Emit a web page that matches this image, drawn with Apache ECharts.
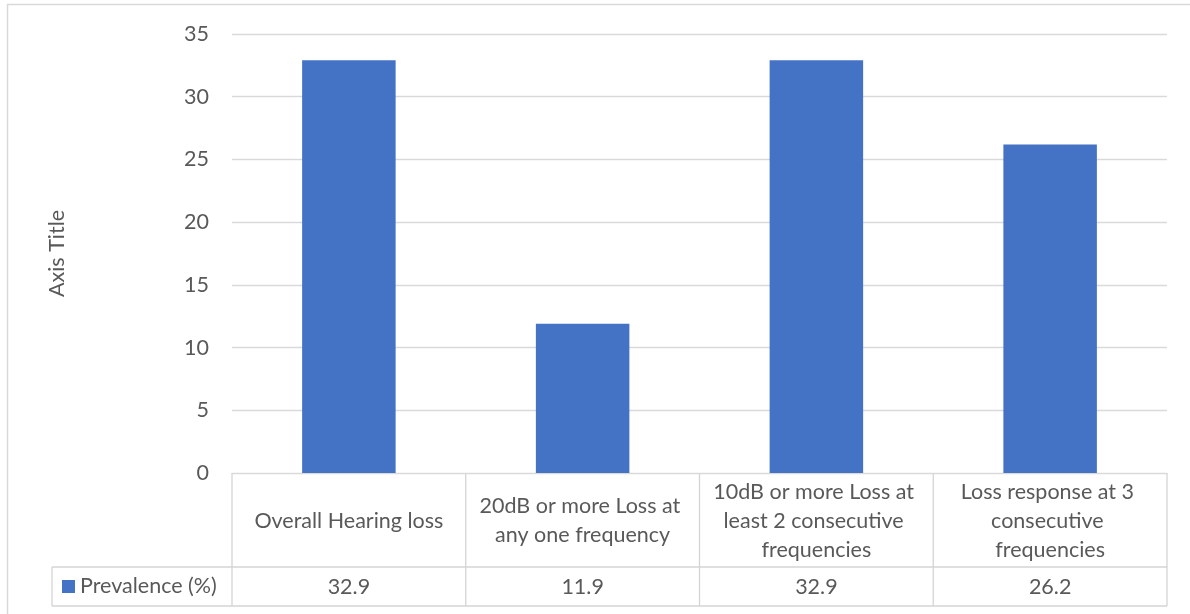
<!DOCTYPE html>
<html><head><meta charset="utf-8">
<script src="https://cdn.jsdelivr.net/npm/echarts@6/dist/echarts.min.js"></script>
<style>html,body{margin:0;padding:0;background:#fff}#c{width:1190px;height:614px}</style>
</head><body><div id="c"></div>
<script>
const categories = ["Overall Hearing loss", "20dB or more Loss at any one frequency", "10dB or more Loss at least 2 consecutive frequencies", "Loss response at 3 consecutive frequencies"];
const seriesName = "Prevalence (%)";
const values = [32.9, 11.9, 32.9, 26.2];
const valueLabels = ["32.9", "11.9", "32.9", "26.2"];
const yTicks = [0, 5, 10, 15, 20, 25, 30, 35];
const yAxisTitle = "Axis Title";

const FONT = "Lato";
const FS = 21.5;
const TXT = "#595959";
const LINE = "#d9d9d9";
const chart = echarts.init(document.getElementById('c'), null, {renderer: 'canvas'});
const option = {
  animation: false,
  grid: {left: 232, right: 23, top: 34, bottom: 141},
  xAxis: [{
    type: 'category', data: categories,
    axisLine: {show: true, lineStyle: {color: LINE}},
    axisTick: {show: false},
    axisLabel: {interval: 0, margin: 48, verticalAlign: 'middle', width: 218, overflow: 'break',
      lineHeight: 29, fontFamily: FONT, fontSize: FS, color: TXT, align: 'center'}
  }, {
    type: 'category', data: categories, position: 'bottom',
    axisLine: {show: false}, axisTick: {show: false},
    axisLabel: {interval: 0, margin: 114, verticalAlign: 'middle', fontFamily: FONT, fontSize: FS, color: TXT,
      formatter: (v, i) => valueLabels[i]}
  }],
  yAxis: {
    type: 'value', min: yTicks[0], max: yTicks[yTicks.length - 1], interval: 5,
    name: yAxisTitle, nameLocation: 'middle', nameGap: 164, nameRotate: 90,
    nameTextStyle: {fontFamily: FONT, fontSize: FS, color: TXT},
    axisLine: {show: false}, axisTick: {show: false},
    axisLabel: {margin: 23, fontFamily: FONT, fontSize: FS, color: TXT},
    splitLine: {lineStyle: {color: LINE, width: 1.3}}
  },
  series: [{
    name: seriesName, type: 'bar', data: values, barWidth: '40%',
    itemStyle: {color: '#4472c4'}
  }]
};
chart.setOption(option);

// Build data table grid from axis positions
const catW = (chart.convertToPixel({xAxisIndex: 0}, categories[1]) - chart.convertToPixel({xAxisIndex: 0}, categories[0]));
const leftEdge = chart.convertToPixel({xAxisIndex: 0}, categories[0]) - catW / 2;
const yTop = chart.convertToPixel({yAxisIndex: 0}, 0);
const yMid = yTop + 94;
const yBot = yTop + 133;
const tableLeft = 52;
const g = [];
const ls = {stroke: '#d4d4d4', lineWidth: 1.3};
for (let i = 0; i <= categories.length; i++) {
  const x = leftEdge + catW * i;
  g.push({type: 'line', shape: {x1: x, y1: yTop, x2: x, y2: yBot}, style: ls});
}
g.push({type: 'line', shape: {x1: tableLeft, y1: yMid, x2: leftEdge + catW * categories.length, y2: yMid}, style: ls});
g.push({type: 'line', shape: {x1: tableLeft, y1: yBot, x2: leftEdge + catW * categories.length, y2: yBot}, style: ls});
g.push({type: 'line', shape: {x1: tableLeft, y1: yMid, x2: tableLeft, y2: yBot}, style: ls});
g.push({type: 'rect', shape: {x: 62, y: yMid + 13, width: 13, height: 13}, style: {fill: '#4472c4'}});
g.push({type: 'text', x: 80, y: (yMid + yBot) / 2, style: {text: seriesName, fontFamily: FONT, fontSize: FS, fill: TXT, verticalAlign: 'middle'}});
// outer chart border
g.push({type: 'rect', shape: {x: 7.5, y: 4.5, width: 1200, height: 640}, style: {fill: null, stroke: '#d9d9d9', lineWidth: 1.5}, z: -1});
chart.setOption({graphic: g});
</script></body></html>
